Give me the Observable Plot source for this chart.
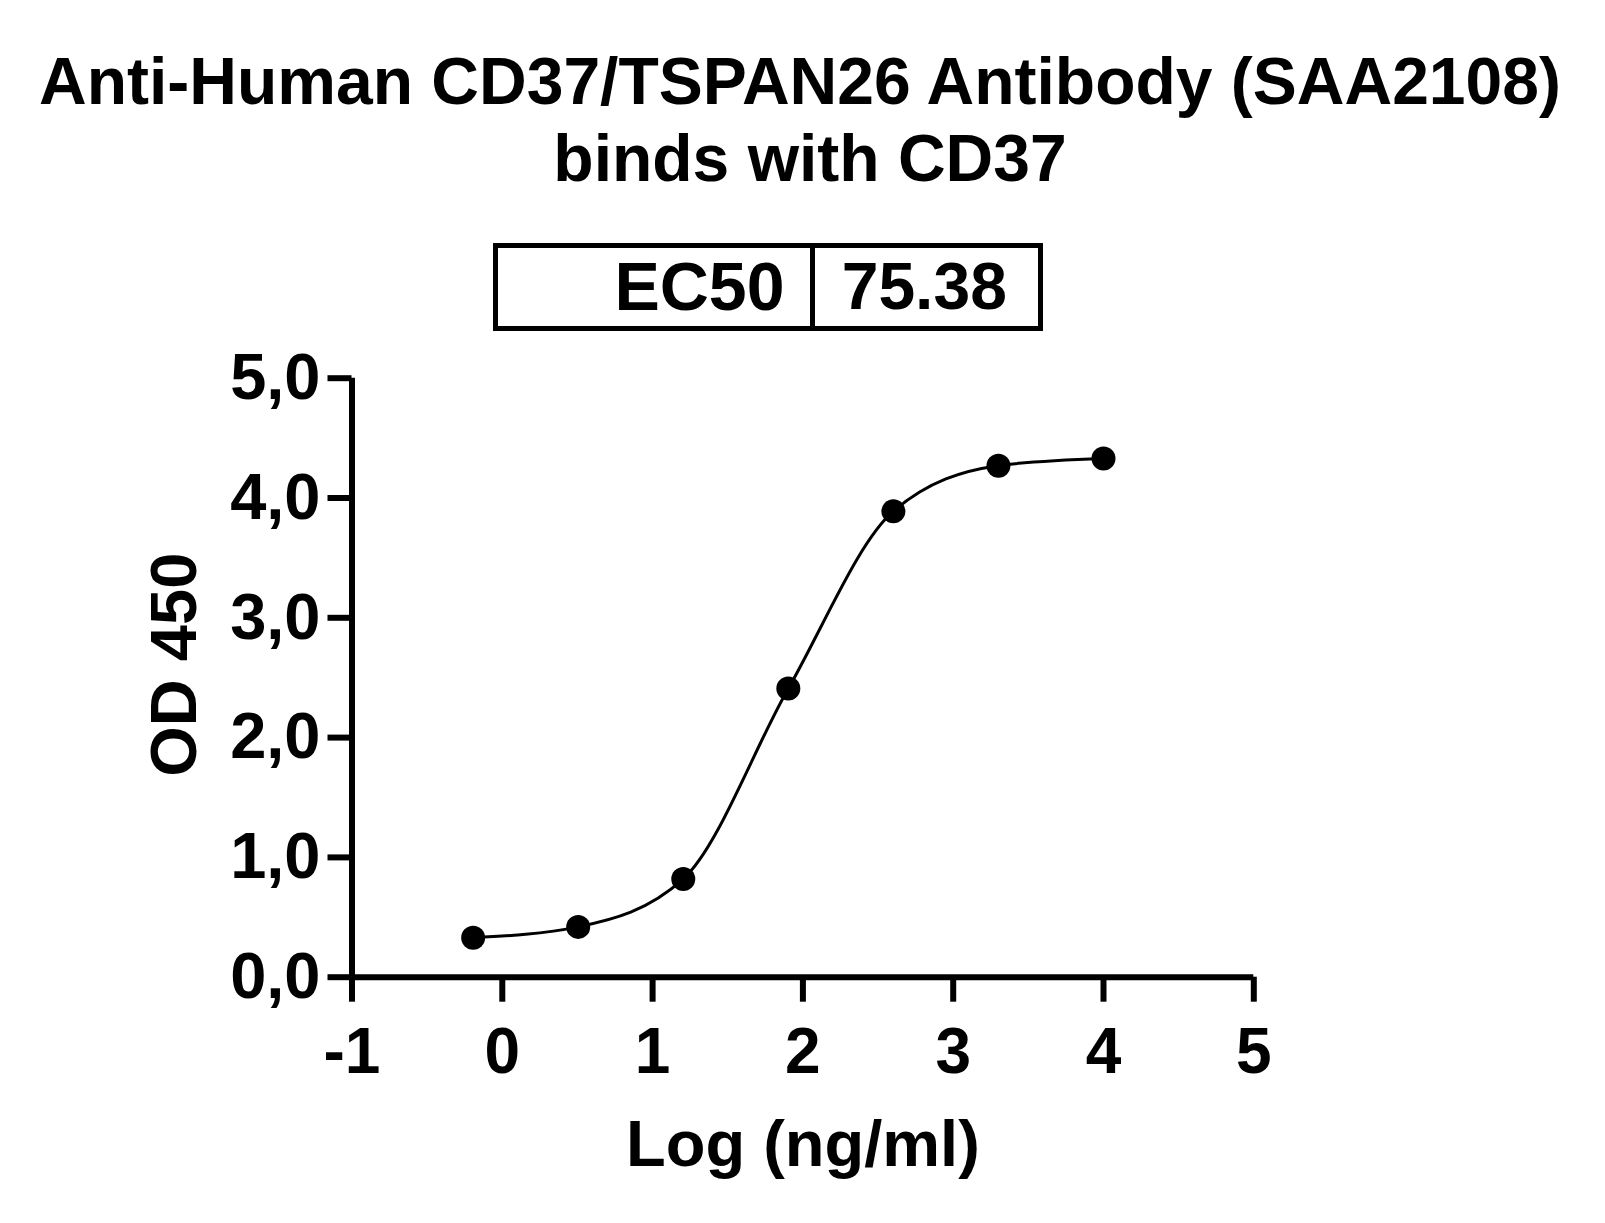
<!DOCTYPE html>
<html>
<head>
<meta charset="utf-8">
<script src="https://cdn.jsdelivr.net/npm/d3@7"></script>
<script src="https://cdn.jsdelivr.net/npm/@observablehq/plot@0.6"></script>
<style>
  html, body { margin: 0; padding: 0; background: #fff; }
  #page { position: relative; width: 1605px; height: 1223px; background: #fff; overflow: hidden;
          font-family: "Liberation Sans", Arial, sans-serif; font-weight: bold; color: #000; }
  .title { position: absolute; text-align: center; font-size: 66px; line-height: 77px; white-space: nowrap; }
  #title1 { left: 0; width: 1600px; top: 43px; }
  #title2 { left: 0; width: 1620px; top: 120px; }
  #box { position: absolute; left: 492.7px; top: 243.3px; width: 550.6px; height: 87.7px;
         border: 5px solid #000; box-sizing: border-box; }
  #divider { position: absolute; left: 810px; top: 243.3px; width: 5px; height: 87.7px; background: #000; }
  .boxtext { position: absolute; white-space: nowrap; }
  #chart { position: absolute; left: 0; top: 340px; }
</style>
</head>
<body>
<div id="page">
  <div id="title1" class="title"></div>
  <div id="title2" class="title"></div>
  <div id="box"></div>
  <div id="divider"></div>
  <div id="ec50label" class="boxtext"></div>
  <div id="ec50value" class="boxtext"></div>
  <div id="chart"></div>
</div>
<script>
// ---- data ----
const titleLines = ["Anti-Human CD37/TSPAN26 Antibody (SAA2108)", "binds with CD37"];
const ec50Label = "EC50";
const ec50Value = "75.38";
const logConc = [-0.194, 0.505, 1.204, 1.903, 2.602, 3.301, 4.0];
const od450 = [0.33, 0.42, 0.82, 2.41, 3.89, 4.27, 4.33];
const xTicks = [-1, 0, 1, 2, 3, 4, 5];
const yTicks = [0, 1, 2, 3, 4, 5];
const xLabel = "Log (ng/ml)";
const yLabel = "OD 450";

// ---- header ----
document.getElementById("title1").textContent = titleLines[0];
document.getElementById("title2").textContent = titleLines[1];
const lab = document.getElementById("ec50label");
lab.textContent = ec50Label;
Object.assign(lab.style, {right: "820.5px", top: "251.7px", fontSize: "68px", lineHeight: "68px"});
const val = document.getElementById("ec50value");
val.textContent = ec50Value;
Object.assign(val.style, {left: "841.7px", top: "253.1px", fontSize: "66px", lineHeight: "66px"});

// ---- chart ----
const data = logConc.map((x, i) => ({x, y: od450[i]}));
const font = "Liberation Sans, Arial, sans-serif";

const chart = Plot.plot({
  width: 1605,
  height: 883,
  marginLeft: 351.5,
  marginRight: 351.7,
  marginTop: 37.7,
  marginBottom: 246.3,
  x: {domain: [-1, 5]},
  y: {domain: [0, 5]},
  style: {fontFamily: font, fontWeight: "bold", background: "white", color: "black", overflow: "visible"},
  marks: [
    Plot.axisY(yTicks, {tickSize: 24, tickPadding: 7.5, strokeWidth: 6, fontSize: 65, fontWeight: "bold",
      tickFormat: d => d.toFixed(1).replace(".", ","), label: null}),
    Plot.axisX(xTicks, {tickSize: 25, tickPadding: 25, strokeWidth: 6, fontSize: 64, fontWeight: "bold",
      tickFormat: d => String(d), label: null}),
    Plot.ruleX([-1], {strokeWidth: 6}),
    Plot.ruleY([0], {strokeWidth: 6}),
    Plot.line(data, {x: "x", y: "y", curve: "monotone-x", strokeWidth: 3, stroke: "black"}),
    Plot.dot(data, {x: "x", y: "y", r: 12, fill: "black", stroke: "none"}),
    Plot.text([yLabel], {frameAnchor: "left", dx: -177.3, dy: -13, rotate: -90, fontSize: 65, fontWeight: "bold",
      textAnchor: "middle", lineAnchor: "middle"}),
    Plot.text([xLabel], {frameAnchor: "bottom", dy: 167.5, fontSize: 65, fontWeight: "bold",
      textAnchor: "middle", lineAnchor: "middle"})
  ]
});
document.getElementById("chart").appendChild(chart);
</script>
</body>
</html>
